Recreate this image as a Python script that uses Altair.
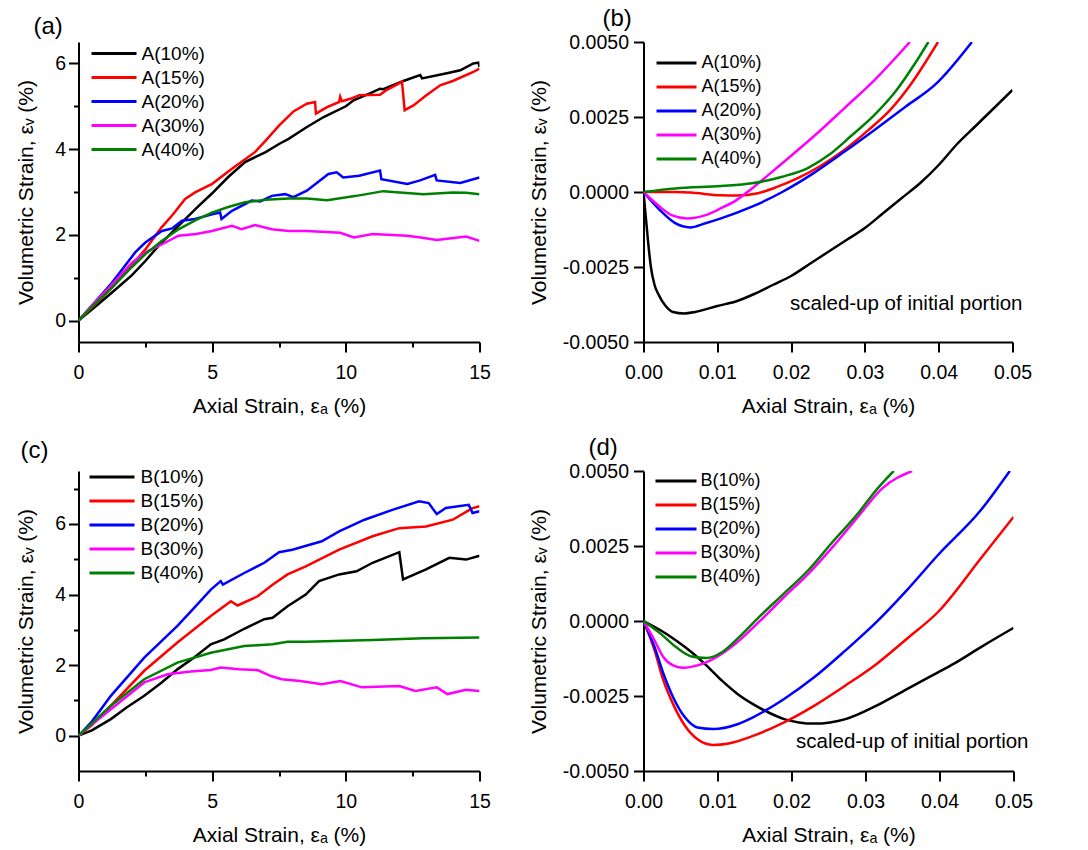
import altair as alt
import pandas as pd

FONT = "Liberation Sans"
COLORS = ["#000000", "#ff0000", "#0000ff", "#ff00ff", "#008000"]

# ---------------- Panel (a): sample A, full axial-strain range ----------------
a_names = ["A(10%)", "A(15%)", "A(20%)", "A(30%)", "A(40%)"]

a10_x = [0, 0.5, 1, 1.5, 2, 2.5, 3, 3.74, 4.4, 5, 5.6, 6.23, 7, 7.5, 7.86, 8.5, 9.17, 10, 10.29,
         10.9, 11.28, 11.4, 12.15, 12.78, 12.85, 13.78, 14.28, 14.77, 14.96, 15]
a10_y = [0, 0.26, 0.52, 0.79, 1.06, 1.39, 1.75, 2.21, 2.62, 2.97, 3.35, 3.70, 3.93, 4.12, 4.24,
         4.50, 4.75, 5.00, 5.14, 5.30, 5.41, 5.40, 5.59, 5.73, 5.65, 5.77, 5.84, 6.00, 6.02, 5.92]

a15_x = [0, 0.5, 1.25, 2, 2.5, 3.1, 3.5, 3.99, 4.36, 5, 5.74, 6.6, 7.0, 7.5, 8.04, 8.54, 8.85,
         8.88, 9.3, 9.75, 9.79, 9.85, 10.2, 10.5, 11.28, 11.5, 12.1, 12.2, 12.53, 13.0, 13.53,
         14.0, 14.77, 15]
a15_y = [0, 0.30, 0.77, 1.30, 1.66, 2.17, 2.45, 2.84, 2.99, 3.19, 3.54, 3.93, 4.20, 4.55, 4.88,
         5.06, 5.10, 4.83, 4.98, 5.10, 5.22, 5.12, 5.18, 5.26, 5.27, 5.37, 5.57, 4.91, 5.02, 5.25,
         5.49, 5.59, 5.80, 5.88]

a20_x = [0, 0.5, 1.25, 2.12, 2.5, 3.12, 3.5, 3.87, 4.36, 5, 5.3, 5.35, 5.74, 6.48, 6.8, 7.23,
         7.73, 8.04, 8.54, 9.35, 9.66, 9.9, 10.5, 11.28, 11.33, 12.3, 12.78, 13.34, 13.4, 14.28, 15]
a20_y = [0, 0.35, 0.88, 1.59, 1.82, 2.09, 2.15, 2.33, 2.37, 2.48, 2.52, 2.37, 2.56, 2.80, 2.78,
         2.91, 2.95, 2.88, 3.03, 3.42, 3.46, 3.34, 3.38, 3.50, 3.30, 3.19, 3.27, 3.40, 3.27, 3.21, 3.34]

a30_x = [0, 0.5, 1.25, 2, 2.5, 3.0, 3.74, 4.4, 4.99, 5.74, 6.1, 6.6, 7.23, 7.86, 8.54, 9.79,
         10.3, 11.0, 12.3, 12.8, 13.4, 14.5, 15]
a30_y = [0, 0.35, 0.84, 1.35, 1.59, 1.74, 1.98, 2.02, 2.09, 2.21, 2.13, 2.23, 2.13, 2.09, 2.09,
         2.05, 1.94, 2.02, 1.98, 1.94, 1.88, 1.96, 1.86]

a40_x = [0, 0.5, 1.25, 2, 2.5, 3.1, 3.74, 4.4, 4.99, 5.6, 6.23, 7.0, 7.86, 8.54, 9.3, 10.4,
         11.4, 12.9, 14.0, 14.5, 15]
a40_y = [0, 0.32, 0.77, 1.25, 1.55, 1.85, 2.13, 2.35, 2.52, 2.65, 2.76, 2.82, 2.85, 2.85, 2.81,
         2.91, 3.02, 2.95, 2.99, 2.98, 2.95]

# ---------------- Panel (b): sample A, initial portion ----------------
b10_x = [0, 0.0003, 0.0006, 0.001, 0.0015, 0.002, 0.003, 0.004, 0.0055, 0.007, 0.01, 0.0125,
         0.015, 0.0175, 0.02, 0.0225, 0.025, 0.0275, 0.03, 0.0325, 0.035, 0.0375, 0.04, 0.0425,
         0.045, 0.0475, 0.05]
b10_y = [0, -0.0008, -0.0016, -0.0025, -0.0031, -0.0034, -0.0038, -0.0040, -0.00405, -0.0040,
         -0.0038, -0.00365, -0.0034, -0.0031, -0.0028, -0.0024, -0.0020, -0.0016, -0.0012,
         -0.0007, -0.0002, 0.0003, 0.0009, 0.0016, 0.0022, 0.0028, 0.0034]

b15_x = [0, 0.0043, 0.0063, 0.0105, 0.0126, 0.0155, 0.018, 0.0209, 0.0238, 0.0272, 0.0305,
         0.0334, 0.0363, 0.0399]
b15_y = [0, 0, -0.00002, -0.00011, -0.00012, -0.00004, 0.00016, 0.00046, 0.00084, 0.0014,
         0.00207, 0.00273, 0.00362, 0.005]

b20_x = [0, 0.0022, 0.0043, 0.0063, 0.0084, 0.0105, 0.0147, 0.0188, 0.023, 0.0272, 0.0313,
         0.0355, 0.0397, 0.0445]
b20_y = [0, -0.0006, -0.00104, -0.00118, -0.00104, -0.00088, -0.00049, 0, 0.00062, 0.00134,
         0.00207, 0.00284, 0.00362, 0.005]

b30_x = [0, 0.0022, 0.0038, 0.0059, 0.0084, 0.0105, 0.0126, 0.0147, 0.0188, 0.023, 0.0272,
         0.0313, 0.0361]
b30_y = [0, -0.00049, -0.00077, -0.00088, -0.00077, -0.00054, -0.00027, 0.00012, 0.00096,
         0.00184, 0.00279, 0.00373, 0.005]

b40_x = [0, 0.0043, 0.0105, 0.0147, 0.0188, 0.0222, 0.0251, 0.028, 0.0313, 0.0343, 0.0368, 0.0386]
b40_y = [0, 0.00012, 0.0002, 0.00029, 0.00051, 0.00079, 0.00123, 0.00184, 0.00257, 0.0034,
         0.00429, 0.005]

# ---------------- Panel (c): sample B, full axial-strain range ----------------
c_names = ["B(10%)", "B(15%)", "B(20%)", "B(30%)", "B(40%)"]

c10_x = [0, 0.5, 1.21, 1.8, 2.46, 3.1, 3.7, 4.3, 4.95, 5.45, 6.2, 6.95, 7.26, 7.82, 8.5, 9.0,
         9.75, 10.4, 11.0, 12.0, 12.14, 13.0, 13.87, 14.5, 15]
c10_y = [0, 0.15, 0.47, 0.80, 1.13, 1.50, 1.88, 2.20, 2.59, 2.73, 3.03, 3.30, 3.34, 3.67, 4.00,
         4.38, 4.57, 4.66, 4.90, 5.20, 4.43, 4.71, 5.04, 4.99, 5.10]

c15_x = [0, 0.5, 1.21, 2.46, 3.7, 4.3, 4.95, 5.7, 5.95, 6.7, 7.26, 7.82, 8.5, 9.75, 11.0, 12.0,
         13.0, 14.0, 14.74, 15]
c15_y = [0, 0.30, 0.85, 1.84, 2.64, 3.00, 3.39, 3.81, 3.69, 3.95, 4.28, 4.57, 4.80, 5.27, 5.65,
         5.88, 5.93, 6.12, 6.45, 6.50]

c20_x = [0, 0.5, 1.21, 2.46, 3.7, 4.3, 4.95, 5.32, 5.4, 6.2, 6.95, 7.5, 8.0, 9.1, 9.75, 10.7,
         11.74, 12.74, 13.1, 13.4, 13.74, 14.6, 14.74, 15]
c20_y = [0, 0.40, 1.13, 2.21, 3.11, 3.60, 4.14, 4.38, 4.28, 4.61, 4.90, 5.20, 5.27, 5.51, 5.79,
         6.12, 6.40, 6.64, 6.59, 6.28, 6.45, 6.54, 6.31, 6.36]

c30_x = [0, 0.5, 1.21, 2.46, 3.33, 4.2, 4.95, 5.32, 6.0, 6.7, 7.2, 7.6, 8.3, 9.1, 9.8, 10.6,
         12.0, 12.6, 13.4, 13.8, 14.5, 15]
c30_y = [0, 0.32, 0.75, 1.51, 1.74, 1.82, 1.86, 1.93, 1.88, 1.86, 1.69, 1.60, 1.55, 1.46, 1.55,
         1.37, 1.41, 1.27, 1.37, 1.18, 1.30, 1.27]

c40_x = [0, 0.5, 1.21, 2.46, 3.7, 4.95, 6.2, 7.26, 7.82, 8.5, 11.0, 12.9, 15]
c40_y = [0, 0.35, 0.85, 1.60, 2.07, 2.35, 2.54, 2.59, 2.66, 2.66, 2.71, 2.76, 2.78]

# ---------------- Panel (d): sample B, initial portion ----------------
d10_x = [0, 0.0023, 0.0044, 0.0065, 0.0085, 0.0106, 0.0127, 0.0148, 0.0169, 0.019, 0.021,
         0.0231, 0.0252, 0.0273, 0.0315, 0.0356, 0.0398, 0.0419, 0.0456, 0.05]
d10_y = [0, -0.00031, -0.00065, -0.00104, -0.00148, -0.00199, -0.00243, -0.00277, -0.00305,
         -0.00327, -0.00338, -0.00342, -0.00338, -0.00327, -0.00282, -0.00227, -0.00171,
         -0.00143, -0.00087, -0.00023]

d15_x = [0, 0.0015, 0.0027, 0.004, 0.0056, 0.0073, 0.0094, 0.0115, 0.0148, 0.019, 0.0231,
         0.0273, 0.0315, 0.0356, 0.0398, 0.0456, 0.05]
d15_y = [0, -0.00098, -0.00199, -0.00277, -0.00349, -0.00394, -0.00413, -0.00408, -0.00383,
         -0.00338, -0.00282, -0.00215, -0.00143, -0.00059, 0.0003, 0.00209, 0.00347]

d20_x = [0, 0.0015, 0.0027, 0.004, 0.0056, 0.0073, 0.0094, 0.0127, 0.0148, 0.019, 0.0231,
         0.0273, 0.0315, 0.0356, 0.0398, 0.0456, 0.0495]
d20_y = [0, -0.00087, -0.00176, -0.00254, -0.00321, -0.00355, -0.0036, -0.00344, -0.00321,
         -0.0026, -0.00187, -0.00098, -0.00003, 0.00103, 0.0022, 0.0037, 0.005]

d30_x = [0, 0.0015, 0.0027, 0.004, 0.0054, 0.0073, 0.0098, 0.0127, 0.0156, 0.019, 0.0223,
         0.0256, 0.029, 0.0323, 0.0363]
d30_y = [0, -0.00065, -0.00121, -0.00148, -0.00156, -0.00148, -0.00121, -0.0007, -0.00003,
         0.0008, 0.00158, 0.00248, 0.00348, 0.00443, 0.005]

d40_x = [0, 0.0023, 0.0044, 0.0065, 0.0085, 0.0106, 0.0127, 0.0156, 0.019, 0.0223, 0.0256,
         0.029, 0.0315, 0.0338]
d40_y = [0, -0.00042, -0.00087, -0.00118, -0.00123, -0.00104, -0.00059, 0.00013, 0.00092,
         0.0017, 0.00265, 0.00359, 0.00438, 0.005]

NOTE_TEXT = "scaled-up of initial portion"
X_TITLE = "Axial Strain, \u03b5\u2090 (%)"
Y_TITLE = "Volumetric Strain, \u03b5\u1d65 (%)"


def long_table(names, xs, ys):
    frames = []
    for name, x, y in zip(names, xs, ys):
        part = pd.DataFrame({"strain_a": x, "strain_v": y, "series": name})
        part["idx"] = range(len(part))
        frames.append(part)
    return pd.concat(frames, ignore_index=True)


def make_axis(title, values, major_test, label_expr, label_pad, title_pad):
    return alt.Axis(
        title=title,
        values=values,
        tickSize={"condition": {"test": major_test, "value": 10}, "value": 5},
        labelExpr=f"({major_test}) ? {label_expr} : ''",
        labelPadding=label_pad,
        titlePadding=title_pad,
        labelFlush=False,
        labelOverlap=False,
    )


def line_symbol(half):
    # horizontal stroke used as the legend key, in the symbol's unit space
    return f"M-{half},0H{half}"


def panel(df, names, xdom, ydom, xaxis, yaxis, width, leg, tag, tag_dx, interp,
          note_y=None, note_dx=7):
    leg_x, leg_y, box, half, leg_font, lab_off = leg
    color = alt.Color(
        "series:N",
        scale=alt.Scale(domain=names, range=COLORS),
        sort=names,
        legend=alt.Legend(
            orient="none", legendX=leg_x, legendY=leg_y, title=None,
            symbolType=line_symbol(half), symbolSize=box * box, symbolStrokeWidth=3,
            labelFontSize=leg_font, labelFont=FONT, labelColor="black",
            rowPadding=0, labelOffset=lab_off, padding=0,
        ),
    )
    lines = alt.Chart(df).mark_line(strokeWidth=2.5, clip=True, interpolate=interp).encode(
        x=alt.X("strain_a:Q", scale=alt.Scale(domain=xdom, nice=False, zero=False), axis=xaxis),
        y=alt.Y("strain_v:Q", scale=alt.Scale(domain=ydom, nice=False, zero=False), axis=yaxis),
        color=color,
        detail="series:N",
        order=alt.Order("idx:Q"),
    )
    layers = [lines]
    if note_y is not None:
        note = alt.Chart(pd.DataFrame({"t": [NOTE_TEXT]})).mark_text(
            align="right", baseline="middle", dx=note_dx, fontSize=20.5, font=FONT, color="black"
        ).encode(x=alt.datum(xdom[1]), y=alt.datum(note_y), text="t:N")
        layers.append(note)
    return alt.layer(*layers).properties(
        width=width, height=300,
        title=alt.TitleParams(tag, anchor="start", frame="group", dx=tag_dx, offset=1,
                              fontSize=24, fontWeight="normal", font=FONT, color="black"),
    )


df_a = long_table(a_names, [a10_x, a15_x, a20_x, a30_x, a40_x], [a10_y, a15_y, a20_y, a30_y, a40_y])
df_b = long_table(a_names, [b10_x, b15_x, b20_x, b30_x, b40_x], [b10_y, b15_y, b20_y, b30_y, b40_y])
df_c = long_table(c_names, [c10_x, c15_x, c20_x, c30_x, c40_x], [c10_y, c15_y, c20_y, c30_y, c40_y])
df_d = long_table(c_names, [d10_x, d15_x, d20_x, d30_x, d40_x], [d10_y, d15_y, d20_y, d30_y, d40_y])

full_x_ticks = [0, 2.5, 5, 7.5, 10, 12.5, 15]
init_x_ticks = [round(i * 0.005, 4) for i in range(11)]
init_y_ticks = [round(-0.005 + i * 0.00125, 6) for i in range(9)]

x_full = make_axis(X_TITLE, full_x_ticks, "datum.value % 5 === 0", "datum.label", 11, 14)
x_init = make_axis(X_TITLE, init_x_ticks,
                   "abs(datum.value * 100 - round(datum.value * 100)) < 1e-6",
                   "format(datum.value, '.2f')", 11, 14)
y_init = make_axis(Y_TITLE, init_y_ticks,
                   "abs(datum.value * 400 - round(datum.value * 400)) < 1e-6",
                   "replace(format(datum.value, '.4f'), '\u2212', '-')", 5, 13)
y_a = make_axis(Y_TITLE, [0, 1, 2, 3, 4, 5, 6], "datum.value % 2 === 0", "datum.label", 3, 18.5)
y_c = make_axis(Y_TITLE, [0, 1, 2, 3, 4, 5, 6, 7], "datum.value % 2 === 0", "datum.label", 3, 18.5)

# legend settings: x, y, symbol box, stroke half-length (box units), label size, label offset
pa = panel(df_a, a_names, [0, 15], [-0.5, 6.5], x_full, y_a, 401,
           (22, -2, 24, 1.875, 19, 14), "(a)", -45, "linear")
pb = panel(df_b, a_names, [0, 0.05], [-0.005, 0.005], x_init, y_init, 369,
           (18, 6, 27, 1.48, 18, 10), "(b)", -41, "monotone", note_y=-0.00374, note_dx=10)
pc = panel(df_c, c_names, [0, 15], [-1, 7.5], x_full, y_c, 401,
           (20, -7.5, 24, 1.875, 19, 15), "(c)", -58, "linear")
pd_ = panel(df_d, c_names, [0, 0.05], [-0.005, 0.005], x_init, y_init, 370,
            (17.5, -5, 27, 1.52, 18, 9.5), "(d)", -55, "monotone", note_y=-0.00404, note_dx=15)

chart = alt.concat(pa, pb, pc, pd_, columns=2, bounds="flush",
                   spacing={"row": 129, "column": 164}).resolve_scale(
    x="independent", y="independent", color="independent"
).configure_view(stroke=None).configure_axis(
    domainColor="black", domainWidth=2, tickColor="black", tickWidth=2,
    labelFont=FONT, labelFontSize=19.5, labelColor="black",
    titleFont=FONT, titleFontSize=21, titleFontWeight="normal", titleColor="black",
    grid=False,
).properties(padding={"left": 14.5, "top": 7, "right": 5, "bottom": 5}, background="white")

chart.save("out.html", embed_options={"renderer": "svg", "actions": False})
